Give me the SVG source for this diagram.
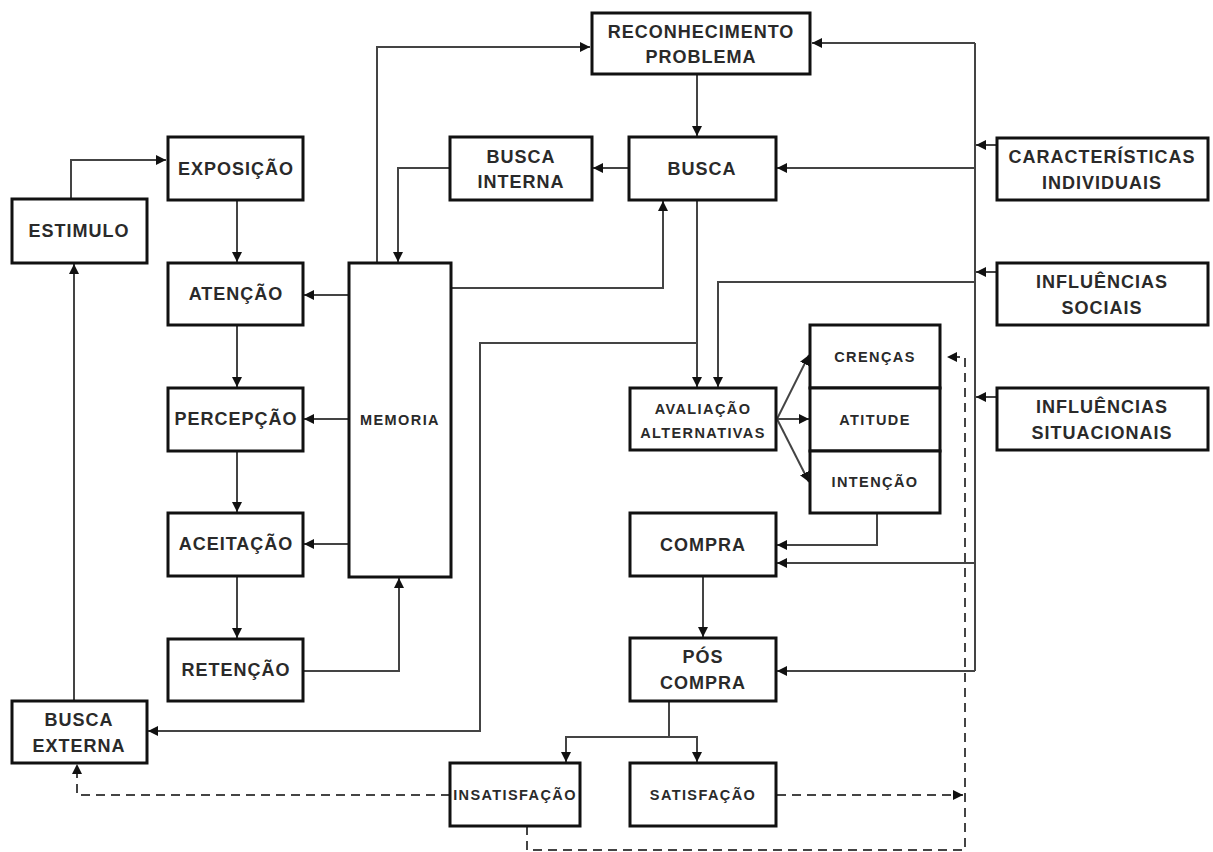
<svg xmlns="http://www.w3.org/2000/svg" width="1213" height="852" viewBox="0 0 1213 852">
<style>
.box{fill:#fff;stroke:#111;stroke-width:3}
.t{font-family:"Liberation Sans",Arial,sans-serif;font-weight:bold;font-size:18px;fill:#2a2a2a;text-anchor:middle;letter-spacing:1px}
.s{font-size:14.5px;letter-spacing:1.4px}
.c{fill:none;stroke:#444;stroke-width:2}
.d{fill:none;stroke:#444;stroke-width:2;stroke-dasharray:9,6}
</style>
<defs>
<marker id="a" markerUnits="userSpaceOnUse" markerWidth="11" markerHeight="10" refX="10" refY="5" orient="auto">
<path d="M0,0 L10,5 L0,10 z" fill="#111"/>
</marker>
</defs>
<rect width="1213" height="852" fill="#fff"/>

<g id="connectors">
<polyline class="c" points="71,199 71,160 166,160" marker-end="url(#a)"/>
<line class="c" x1="237" y1="200" x2="237" y2="262" marker-end="url(#a)"/>
<line class="c" x1="237" y1="325" x2="237" y2="387" marker-end="url(#a)"/>
<line class="c" x1="237" y1="451" x2="237" y2="512" marker-end="url(#a)"/>
<line class="c" x1="237" y1="577" x2="237" y2="638" marker-end="url(#a)"/>
<line class="c" x1="349" y1="295" x2="304" y2="295" marker-end="url(#a)"/>
<line class="c" x1="349" y1="419" x2="304" y2="419" marker-end="url(#a)"/>
<line class="c" x1="349" y1="544" x2="304" y2="544" marker-end="url(#a)"/>
<polyline class="c" points="303,671 399,671 399,578" marker-end="url(#a)"/>
<line class="c" x1="74" y1="701" x2="74" y2="264" marker-end="url(#a)"/>
<polyline class="c" points="377,263 377,47 590,47" marker-end="url(#a)"/>
<polyline class="c" points="450,168 398,168 398,262" marker-end="url(#a)"/>
<polyline class="c" points="451,288 663,288 663,201" marker-end="url(#a)"/>
<line class="c" x1="697" y1="74" x2="697" y2="136" marker-end="url(#a)"/>
<line class="c" x1="629" y1="168" x2="593" y2="168" marker-end="url(#a)"/>
<line class="c" x1="697" y1="200" x2="697" y2="387" marker-end="url(#a)"/>
<polyline class="c" points="697,343 480,343 480,731 148,731" marker-end="url(#a)"/>
<line class="c" x1="975" y1="43" x2="975" y2="671"/>
<line class="c" x1="975" y1="43" x2="812" y2="43" marker-end="url(#a)"/>
<line class="c" x1="975" y1="168" x2="777" y2="168" marker-end="url(#a)"/>
<polyline class="c" points="975,282 718,282 718,387" marker-end="url(#a)"/>
<line class="c" x1="975" y1="563" x2="777" y2="563" marker-end="url(#a)"/>
<line class="c" x1="975" y1="671" x2="777" y2="671" marker-end="url(#a)"/>
<line class="c" x1="997" y1="145" x2="976" y2="145" marker-end="url(#a)"/>
<line class="c" x1="997" y1="272" x2="976" y2="272" marker-end="url(#a)"/>
<line class="c" x1="997" y1="397" x2="976" y2="397" marker-end="url(#a)"/>
<line class="c" x1="777" y1="419" x2="809" y2="355" marker-end="url(#a)"/>
<line class="c" x1="777" y1="419" x2="809" y2="419" marker-end="url(#a)"/>
<line class="c" x1="777" y1="419" x2="809" y2="482" marker-end="url(#a)"/>
<polyline class="c" points="877,513 877,545 777,545" marker-end="url(#a)"/>
<line class="c" x1="703" y1="576" x2="703" y2="637" marker-end="url(#a)"/>
<polyline class="c" points="669,701 669,737 566,737 566,762" marker-end="url(#a)"/>
<polyline class="c" points="669,737 697,737 697,762" marker-end="url(#a)"/>
<polyline class="d" points="450,795 77,795 77,764" marker-end="url(#a)"/>
<line class="d" x1="777" y1="795" x2="963" y2="795" marker-end="url(#a)"/>
<polyline class="d" points="527,826 527,850 965,850 965,357 947,357" marker-end="url(#a)"/>
</g>

<g id="n-reconhecimento"><rect class="box" x="592" y="13" width="218" height="61"/><text class="t" x="701" y="38">RECONHECIMENTO</text><text class="t" x="701" y="63">PROBLEMA</text></g>
<g id="n-busca-interna"><rect class="box" x="450" y="137" width="142" height="63"/><text class="t" x="521" y="163">BUSCA</text><text class="t" x="521" y="188">INTERNA</text></g>
<g id="n-busca"><rect class="box" x="629" y="137" width="147" height="63"/><text class="t" x="702" y="175">BUSCA</text></g>
<g id="n-exposicao"><rect class="box" x="168" y="137" width="135" height="63"/><text class="t" x="236" y="175">EXPOSIÇÃO</text></g>
<g id="n-estimulo"><rect class="box" x="12" y="199" width="135" height="64"/><text class="t" x="79" y="237">ESTIMULO</text></g>
<g id="n-atencao"><rect class="box" x="168" y="263" width="135" height="62"/><text class="t" x="236" y="300">ATENÇÃO</text></g>
<g id="n-percepcao"><rect class="box" x="168" y="388" width="135" height="63"/><text class="t" x="236" y="425">PERCEPÇÃO</text></g>
<g id="n-aceitacao"><rect class="box" x="168" y="513" width="135" height="63"/><text class="t" x="236" y="550">ACEITAÇÃO</text></g>
<g id="n-retencao"><rect class="box" x="168" y="639" width="135" height="62"/><text class="t" x="236" y="676">RETENÇÃO</text></g>
<g id="n-memoria"><rect class="box" x="349" y="263" width="102" height="314"/><text class="t s" x="400" y="425">MEMORIA</text></g>
<g id="n-busca-externa"><rect class="box" x="12" y="701" width="135" height="62"/><text class="t" x="79" y="726">BUSCA</text><text class="t" x="79" y="752">EXTERNA</text></g>
<g id="n-caracteristicas"><rect class="box" x="997" y="138" width="211" height="62"/><text class="t" x="1102" y="163">CARACTERÍSTICAS</text><text class="t" x="1102" y="189">INDIVIDUAIS</text></g>
<g id="n-influencias-sociais"><rect class="box" x="997" y="263" width="211" height="62"/><text class="t" x="1102" y="288">INFLUÊNCIAS</text><text class="t" x="1102" y="314">SOCIAIS</text></g>
<g id="n-influencias-situacionais"><rect class="box" x="997" y="388" width="211" height="62"/><text class="t" x="1102" y="413">INFLUÊNCIAS</text><text class="t" x="1102" y="439">SITUACIONAIS</text></g>
<g id="n-avaliacao"><rect class="box" x="630" y="388" width="146" height="62"/><text class="t s" x="703" y="414">AVALIAÇÃO</text><text class="t s" x="703" y="438">ALTERNATIVAS</text></g>
<g id="n-crencas"><rect class="box" x="810" y="325" width="130" height="63"/><text class="t s" x="875" y="362">CRENÇAS</text></g>
<g id="n-atitude"><rect class="box" x="810" y="388" width="130" height="63"/><text class="t s" x="875" y="425">ATITUDE</text></g>
<g id="n-intencao"><rect class="box" x="810" y="451" width="130" height="62"/><text class="t s" x="875" y="487">INTENÇÃO</text></g>
<g id="n-compra"><rect class="box" x="630" y="513" width="146" height="63"/><text class="t" x="703" y="551">COMPRA</text></g>
<g id="n-pos-compra"><rect class="box" x="630" y="638" width="146" height="63"/><text class="t" x="703" y="663">PÓS</text><text class="t" x="703" y="689">COMPRA</text></g>
<g id="n-insatisfacao"><rect class="box" x="450" y="763" width="130" height="63"/><text class="t s" x="515" y="800">INSATISFAÇÃO</text></g>
<g id="n-satisfacao"><rect class="box" x="630" y="763" width="146" height="63"/><text class="t s" x="703" y="800">SATISFAÇÃO</text></g>
</svg>
